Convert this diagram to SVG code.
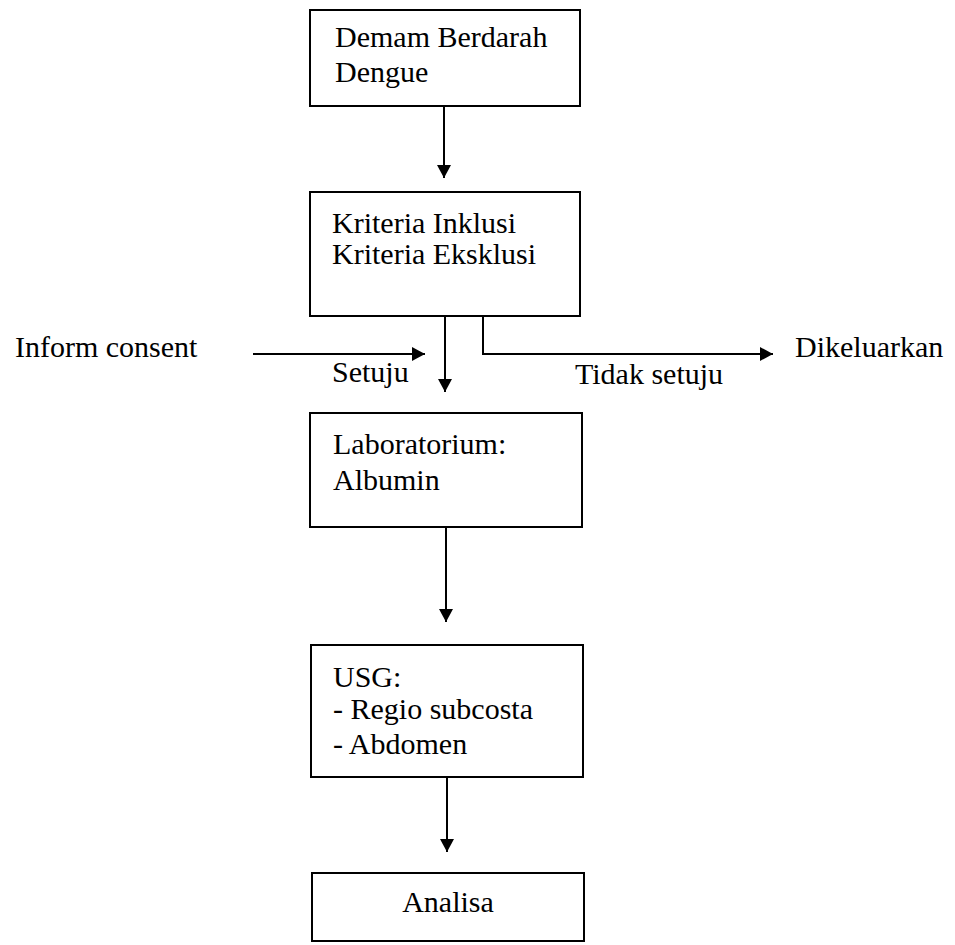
<svg xmlns="http://www.w3.org/2000/svg" width="955" height="945" viewBox="0 0 955 945">
<style>
  .box { fill: #ffffff; stroke: #000000; stroke-width: 2; }
  .t { font-family: "Liberation Serif", "Times New Roman", serif; font-size: 30px; fill: #000000; }
  .c { fill: none; stroke: #000000; stroke-width: 2; }
</style>
<defs>
  <marker id="ah" viewBox="0 0 13 14" markerWidth="13" markerHeight="14" refX="13" refY="7" orient="auto" markerUnits="userSpaceOnUse">
    <path d="M0,0 L13,7 L0,14 z" fill="#000000"/>
  </marker>
</defs>
<rect width="955" height="945" fill="#ffffff"/>

<g id="connectors">
  <line class="c" x1="444" y1="106" x2="444" y2="178" marker-end="url(#ah)"/>
  <line class="c" x1="445" y1="316" x2="445" y2="392" marker-end="url(#ah)"/>
  <line class="c" x1="253" y1="354" x2="425" y2="354" marker-end="url(#ah)"/>
  <polyline class="c" points="483,316 483,354 773,354" marker-end="url(#ah)"/>
  <line class="c" x1="446" y1="527" x2="446" y2="622" marker-end="url(#ah)"/>
  <line class="c" x1="447" y1="777" x2="447" y2="852" marker-end="url(#ah)"/>
</g>

<g id="node-dbd">
  <rect class="box" x="310" y="10" width="270" height="96"/>
  <text class="t" x="335" y="47">Demam Berdarah</text>
  <text class="t" x="335" y="82">Dengue</text>
</g>

<g id="node-kriteria">
  <rect class="box" x="310" y="192" width="270" height="124"/>
  <text class="t" x="332" y="233">Kriteria Inklusi</text>
  <text class="t" x="332" y="264">Kriteria Eksklusi</text>
</g>

<g id="label-inform">
  <text class="t" x="15" y="357">Inform consent</text>
</g>
<g id="label-setuju">
  <text class="t" x="332" y="382">Setuju</text>
</g>
<g id="label-tidak">
  <text class="t" x="575" y="384">Tidak setuju</text>
</g>
<g id="node-dikeluarkan">
  <text class="t" x="795" y="357">Dikeluarkan</text>
</g>

<g id="node-lab">
  <rect class="box" x="310" y="413" width="272" height="114"/>
  <text class="t" x="333" y="454">Laboratorium:</text>
  <text class="t" x="333" y="490">Albumin</text>
</g>

<g id="node-usg">
  <rect class="box" x="311" y="645" width="272" height="132"/>
  <text class="t" x="333" y="687">USG:</text>
  <text class="t" x="333" y="719">- Regio subcosta</text>
  <text class="t" x="333" y="754">- Abdomen</text>
</g>

<g id="node-analisa">
  <rect class="box" x="312" y="873" width="272" height="68"/>
  <text class="t" x="448" y="912" text-anchor="middle">Analisa</text>
</g>
</svg>
